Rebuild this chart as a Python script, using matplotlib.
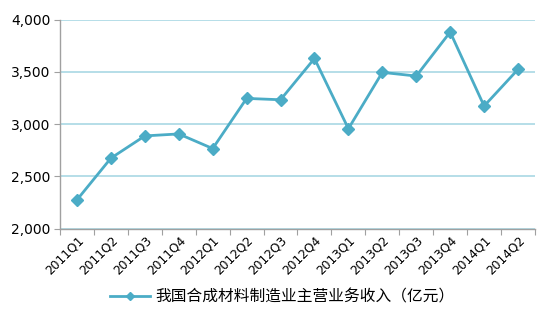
import matplotlib
matplotlib.use("Agg")
import matplotlib.pyplot as plt
from matplotlib.ticker import FuncFormatter, MultipleLocator

plt.rcParams['font.family'] = ['Noto Sans CJK SC', 'DejaVu Sans']

categories = ["2011Q1", "2011Q2", "2011Q3", "2011Q4", "2012Q1", "2012Q2", "2012Q3",
              "2012Q4", "2013Q1", "2013Q2", "2013Q3", "2013Q4", "2014Q1", "2014Q2"]
values = [2274, 2673, 2886, 2905, 2765, 3245, 3232, 3627, 2955, 3494, 3459, 3880, 3172, 3523]
series_name = "我国合成材料制造业主营业务收入（亿元）"

W, H = 542, 322
fig = plt.figure(figsize=(W/100, H/100), dpi=100)
ax = fig.add_axes([60/W, 1-228.5/H, (535-60)/W, (228.5-19.5)/H])

color = "#4BACC6"
x = list(range(len(categories)))
ax.plot(x, values, color=color, lw=2.0, marker='D', ms=6.5, mfc=color, mec=color,
        label=series_name, zorder=3)

ax.set_xlim(-0.5, len(categories)-0.5)
ax.set_ylim(2000, 4000)
ax.yaxis.set_major_locator(MultipleLocator(500))
ax.yaxis.set_major_formatter(FuncFormatter(lambda v, p: f"{int(v):,}"))
ax.grid(axis='y', color="#A9D8E4", lw=1.2, zorder=0)
ax.set_axisbelow(True)

ax.set_xticks([i - 0.5 for i in range(len(categories)+1)], minor=False)
ax.set_xticklabels([])
ax.set_xticks(x, minor=True)
ax.set_xticklabels(categories, minor=True, rotation=45, ha='right', va='top',
                   rotation_mode='anchor', fontsize=8.8, family=['DejaVu Sans'])
ax.tick_params(axis='x', which='minor', length=0, pad=4)
ax.tick_params(axis='x', which='major', length=4, color="#A0A0A0")
ax.tick_params(axis='y', length=4, color="#A0A0A0", labelsize=10, pad=3)
for lbl in ax.get_yticklabels():
    lbl.set_family(['DejaVu Sans'])

for s in ['top', 'right']:
    ax.spines[s].set_visible(False)
for s in ['left', 'bottom']:
    ax.spines[s].set_color("#A0A0A0")
    ax.spines[s].set_linewidth(1)

fig.legend(loc='center', bbox_to_anchor=(282/W, 1-297/H), frameon=False, fontsize=11.3,
           handlelength=2.6, handletextpad=0.3, markerscale=0.7)

fig.savefig("out.png", dpi=100)
